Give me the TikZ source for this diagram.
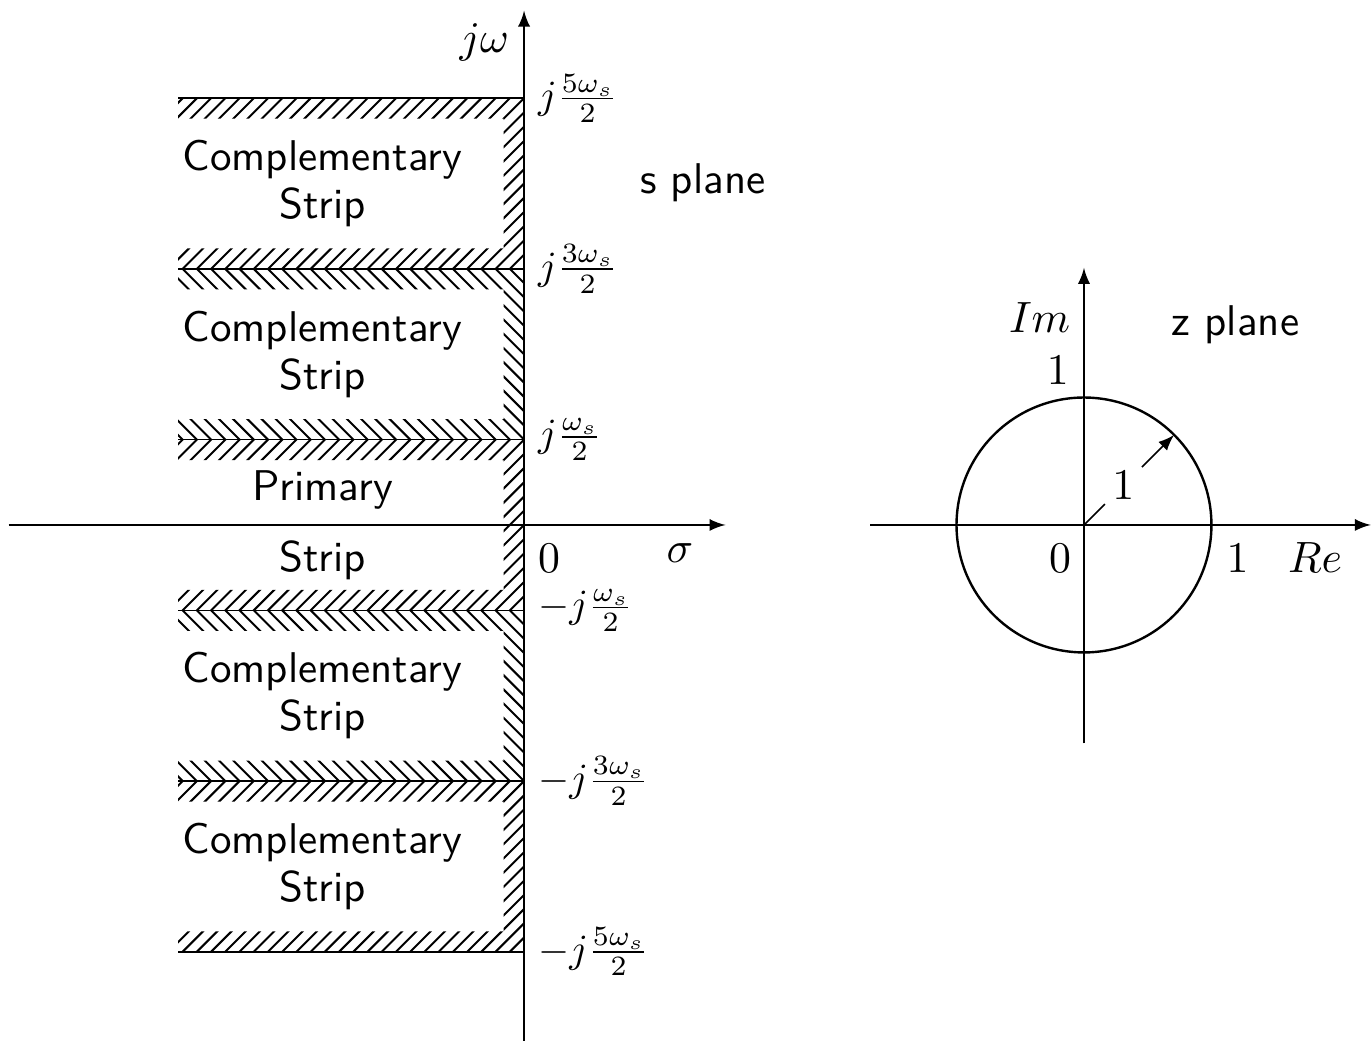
\documentclass[tikz,border=0pt]{standalone}
\usetikzlibrary{positioning}
\begin{document}
\begin{tikzpicture}[>=latex,
  hatch/.style={line width=0.5pt},
  strip/.style={font=\sffamily\fontsize{10.75}{12}\selectfont, align=center},
  lbl/.style={font=\fontsize{11}{13}\selectfont}]
\useasboundingbox (-4.605,-4.526) rectangle (7.451,4.613);
% s plane: hatched strips
\foreach \yb/\d in {2.25/1, 0.75/-1, -0.75/1, -2.25/-1, -3.75/1} {
  \begin{scope}
    \clip (-3.04,\yb) -- (0,\yb) -- (0,\yb+1.5) -- (-3.04,\yb+1.5)
      -- (-3.04,\yb+1.32) -- (-0.18,\yb+1.32) -- (-0.18,\yb+0.18)
      -- (-3.04,\yb+0.18) -- cycle;
    \foreach \n in {-40,...,16}
      \draw[hatch] (\n*0.125-2,\yb-2*\d) -- (\n*0.125+2,\yb+2*\d);
  \end{scope}
}
\foreach \y in {3.75,2.25,0.75,-0.75,-2.25,-3.75}
  \draw (-3.04,\y) -- (0,\y);
% axes
\coordinate (sl) at (-4.53,0);
\coordinate (sr) at (1.77,0);
\coordinate (sb) at (0,-4.53);
\coordinate (st) at (0,4.52);
\draw[->] (sl) -- (sr);
\draw[->] (sb) -- (st);
\node[lbl] (jw) at (-0.35,4.24) {$j\omega$};
\node[lbl] (sig) at (1.37,-0.25) {$\sigma$};
\node[lbl] (s0) at (0.22,-0.29) {$0$};
\node[right] (p5) at (0,3.75) {$j\frac{5\omega_s}{2}$};
\node[right] (p3) at (0,2.25) {$j\frac{3\omega_s}{2}$};
\node[right] (p1) at (0,0.75) {$j\frac{\omega_s}{2}$};
\node[right] (m1) at (0,-0.75) {$-j\frac{\omega_s}{2}$};
\node[right] (m3) at (0,-2.25) {$-j\frac{3\omega_s}{2}$};
\node[right] (m5) at (0,-3.75) {$-j\frac{5\omega_s}{2}$};
\node[strip] (c1) at (-1.77,3) {Complementary\\Strip};
\node[strip] (c2) at (-1.77,1.5) {Complementary\\Strip};
\node[strip] (pr) at (-1.77,0.31) {Primary};
\node[strip] (ps) at (-1.77,-0.31) {Strip};
\node[strip] (c3) at (-1.77,-1.5) {Complementary\\Strip};
\node[strip] (c4) at (-1.77,-3) {Complementary\\Strip};
\node[strip] (splane) at (1.57,3.01) {s plane};
% z plane
\begin{scope}[shift={(4.92,0)}]
  \coordinate (zo) at (0,0);
  \coordinate (zl) at (-1.88,0);
  \coordinate (zr) at (2.52,0);
  \coordinate (zb) at (0,-1.92);
  \coordinate (zt) at (0,2.26);
  \draw[->] (zl) -- (zr);
  \draw[->] (zb) -- (zt);
  \draw[line width=0.6pt] (zo) circle (1.12);
  \node[lbl, inner sep=1.7pt] (r1) at (45:0.49) {$1$};
  \coordinate (rc) at (45:1.12);
  \draw (zo) -- (r1);
  \draw[->] (r1) -- (rc);
  \node[lbl] (im) at (-0.39,1.82) {$Im$};
  \node[lbl] (i1) at (-0.23,1.36) {$1$};
  \node[lbl] (z0) at (-0.21,-0.29) {$0$};
  \node[lbl] (re1) at (1.35,-0.29) {$1$};
  \node[lbl] (re) at (2.03,-0.29) {$Re$};
  \node[strip] (zplane) at (1.33,1.76) {z plane};
\end{scope}
\end{tikzpicture}
\end{document}
